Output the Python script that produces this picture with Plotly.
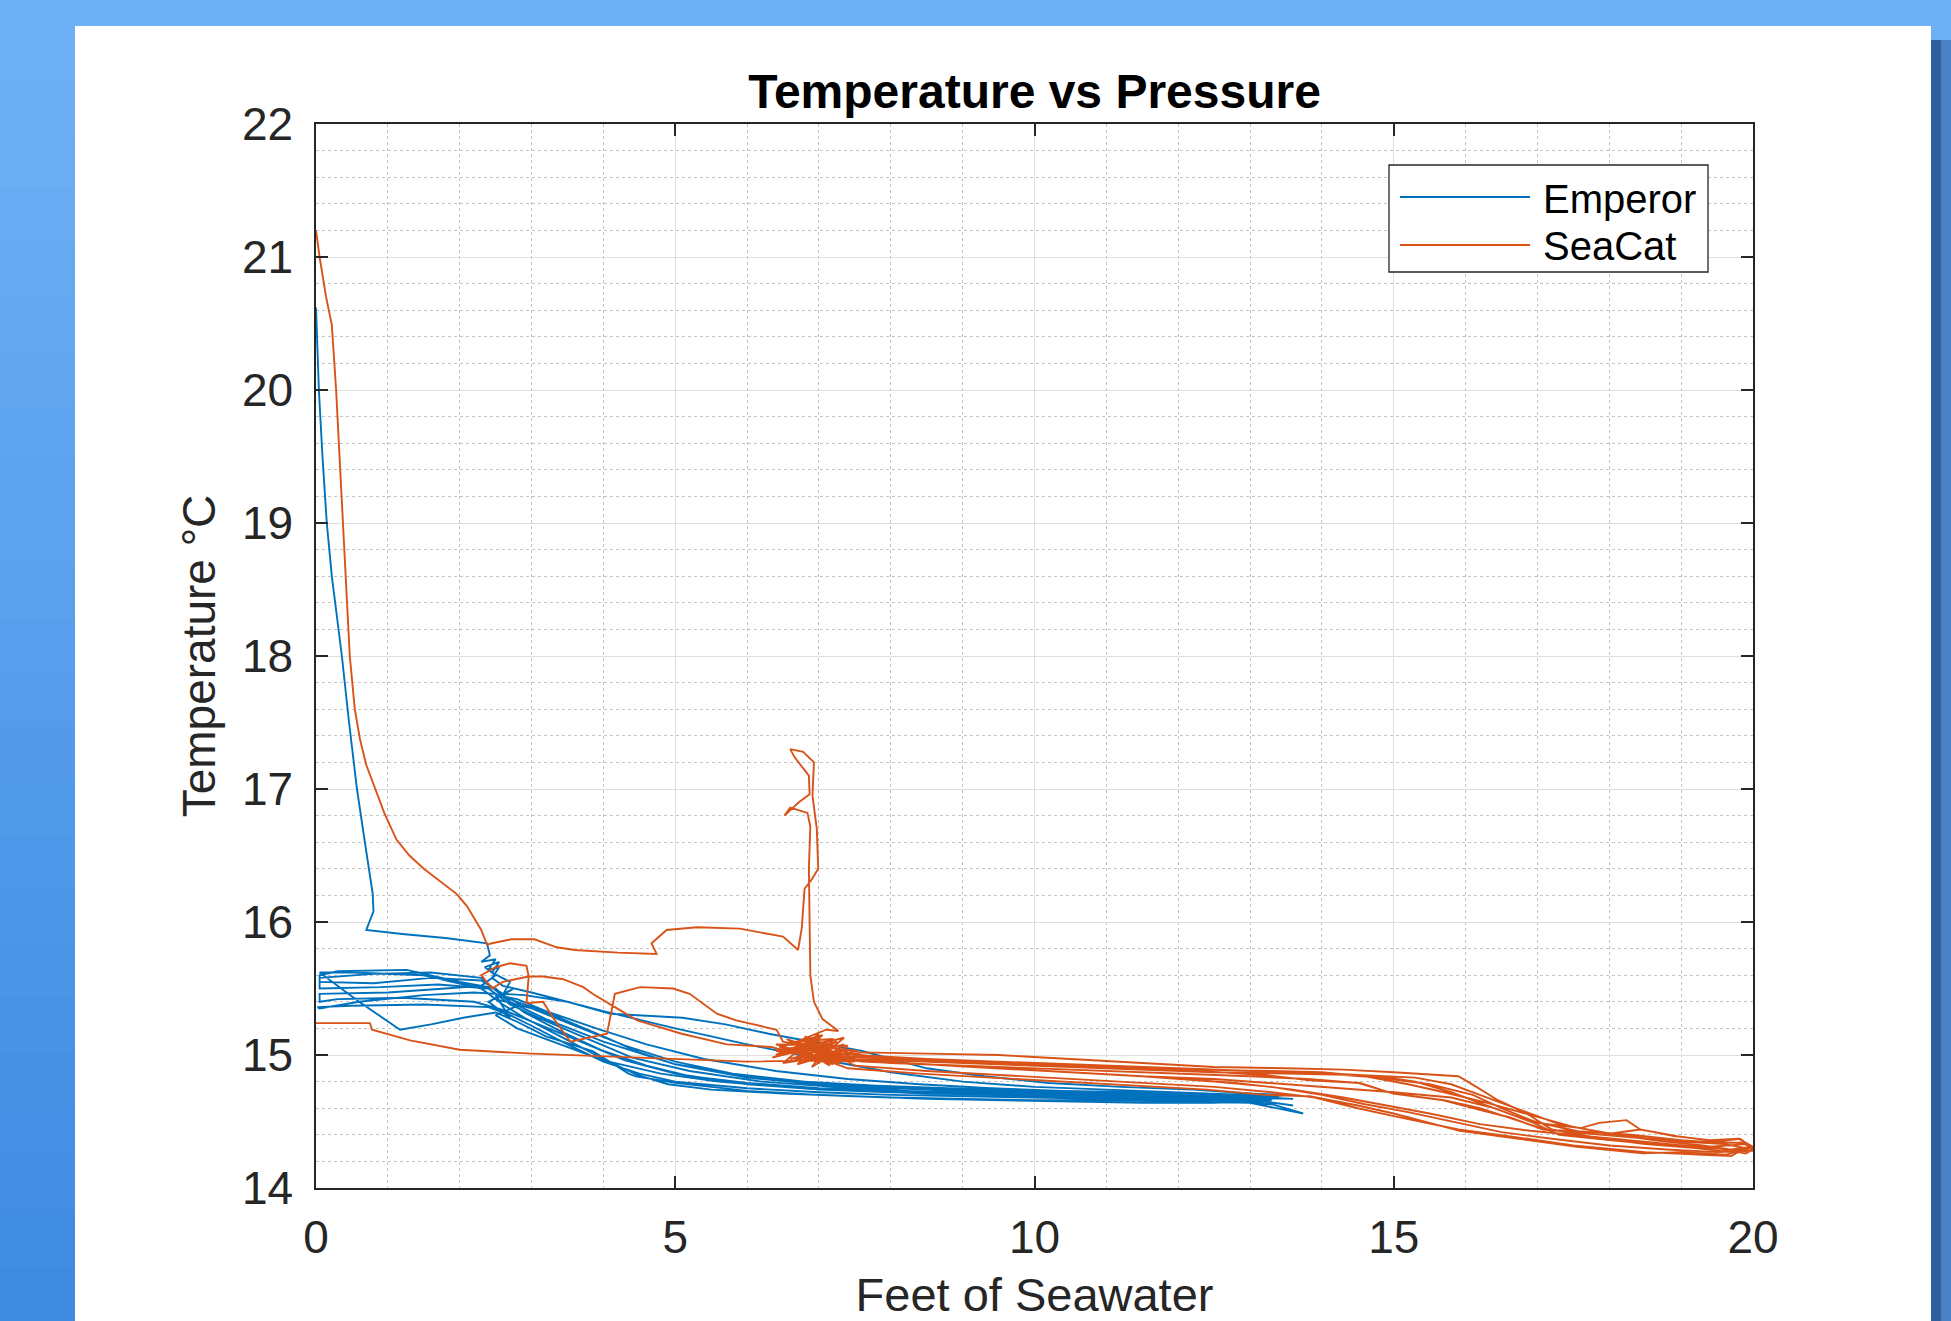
import plotly.graph_objects as go

# ---------------- data (feet of seawater, temperature degC) ----------------
EMPEROR_DESCENT = [(0.00, 20.62), (0.02, 20.30), (0.04, 20.00), (0.09, 19.50), (0.15, 19.00),
                   (0.22, 18.60), (0.36, 18.00), (0.46, 17.50), (0.57, 17.00), (0.68, 16.60),
                   (0.79, 16.21), (0.80, 16.08), (0.70, 15.94), (1.20, 15.91), (1.80, 15.88),
                   (2.38, 15.84), (2.42, 15.75), (2.30, 15.70), (2.50, 15.72), (2.40, 15.64),
                   (2.55, 15.66), (2.45, 15.58)]
EMPEROR_CAST1 = [(2.60, 15.52), (3.00, 15.47), (4.00, 15.33), (5.00, 15.20), (6.00, 15.08),
                 (7.00, 14.97), (8.00, 14.87), (9.00, 14.80), (10.00, 14.76), (11.00, 14.74),
                 (12.00, 14.72), (13.00, 14.70), (13.40, 14.69), (13.00, 14.66), (12.00, 14.66),
                 (11.00, 14.67), (10.00, 14.68), (9.00, 14.69), (8.00, 14.70), (7.00, 14.72),
                 (6.00, 14.75), (5.00, 14.80), (4.50, 14.86), (4.00, 14.95), (3.50, 15.08),
                 (3.00, 15.22), (2.70, 15.30), (2.40, 15.36), (1.50, 15.38), (0.50, 15.37),
                 (0.02, 15.36)]
EMPEROR_CAST2 = [(0.05, 15.35), (0.60, 15.40), (1.50, 15.45), (2.20, 15.47), (2.50, 15.46),
                 (2.80, 15.40), (3.30, 15.30), (4.00, 15.14), (4.50, 15.02), (5.00, 14.93),
                 (6.00, 14.84), (7.00, 14.79), (8.00, 14.76), (9.00, 14.74), (10.00, 14.72),
                 (11.00, 14.71), (12.00, 14.70), (12.80, 14.69), (13.30, 14.66), (12.50, 14.64),
                 (11.50, 14.64), (10.50, 14.65), (9.50, 14.66), (8.50, 14.67), (7.50, 14.69),
                 (6.50, 14.71), (5.50, 14.74), (4.90, 14.78), (4.47, 14.85), (4.00, 14.97),
                 (3.40, 15.14), (2.90, 15.28), (2.60, 15.38), (2.30, 15.50), (1.50, 15.60),
                 (0.50, 15.62), (0.05, 15.62)]
EMPEROR_CAST3 = [(0.60, 15.40), (1.17, 15.19), (1.60, 15.23), (2.05, 15.28), (2.50, 15.32),
                 (2.80, 15.25), (3.20, 15.14), (3.85, 15.03), (4.35, 14.86), (4.45, 14.84),
                 (5.00, 14.79), (6.00, 14.73), (7.00, 14.70), (8.00, 14.68), (9.00, 14.67),
                 (10.00, 14.66), (11.00, 14.66), (12.00, 14.65), (13.00, 14.64), (13.74, 14.56),
                 (13.30, 14.63), (12.00, 14.68), (11.00, 14.70), (10.00, 14.72), (9.00, 14.73),
                 (8.00, 14.75), (7.00, 14.78), (6.00, 14.83), (5.00, 14.93), (4.00, 15.10),
                 (3.20, 15.27), (2.70, 15.40), (2.50, 15.50), (2.00, 15.55), (1.26, 15.64),
                 (0.30, 15.63), (0.05, 15.60)]
EMPEROR_CAST4 = [(0.05, 15.55), (0.80, 15.54), (1.60, 15.58), (2.30, 15.56), (2.60, 15.46),
                 (2.90, 15.45), (3.50, 15.40), (4.10, 15.31), (5.10, 15.28), (5.70, 15.23),
                 (6.30, 15.16), (7.60, 15.03), (8.50, 14.90), (9.30, 14.84), (10.20, 14.79),
                 (11.20, 14.76), (12.20, 14.74), (13.00, 14.71), (13.50, 14.70), (13.00, 14.67),
                 (12.00, 14.68), (11.00, 14.69), (10.00, 14.70), (9.00, 14.71), (8.00, 14.72),
                 (7.00, 14.74), (6.00, 14.78), (5.00, 14.86), (4.30, 14.96), (3.60, 15.12),
                 (3.00, 15.25), (2.60, 15.34), (2.20, 15.40), (1.20, 15.43), (0.30, 15.42),
                 (0.05, 15.40)]
EMPEROR_CAST5 = [(0.05, 15.46), (1.00, 15.47), (1.80, 15.50), (2.30, 15.52), (2.50, 15.60),
                 (2.35, 15.66), (2.55, 15.70), (2.45, 15.62), (2.70, 15.55), (2.60, 15.45),
                 (2.85, 15.38), (2.50, 15.30), (2.80, 15.20), (3.30, 15.10), (4.00, 14.96),
                 (4.80, 14.86), (5.60, 14.80), (6.50, 14.76), (7.50, 14.73), (8.50, 14.71),
                 (9.50, 14.70), (10.50, 14.69), (11.50, 14.68), (12.50, 14.67), (13.10, 14.66),
                 (12.40, 14.71), (11.40, 14.72), (10.40, 14.73), (9.40, 14.75), (8.40, 14.78),
                 (7.40, 14.82), (6.40, 14.88), (5.40, 14.97), (4.60, 15.08), (3.90, 15.20),
                 (3.20, 15.33), (2.80, 15.42), (2.50, 15.45), (2.70, 15.28), (2.40, 15.40),
                 (2.75, 15.50)]
EMPEROR_CAST6 = [(2.50, 15.42), (3.00, 15.35), (3.60, 15.22), (4.30, 15.07), (5.00, 14.95),
                 (5.80, 14.86), (6.80, 14.80), (7.80, 14.77), (8.80, 14.75), (9.80, 14.73),
                 (10.80, 14.72), (11.80, 14.71), (12.80, 14.69), (13.60, 14.67), (13.00, 14.68),
                 (12.00, 14.69), (11.00, 14.70), (10.00, 14.71), (9.00, 14.72), (8.00, 14.73),
                 (7.00, 14.75), (6.00, 14.79), (5.20, 14.84), (4.60, 14.92), (4.00, 15.03),
                 (3.40, 15.18), (2.90, 15.32), (2.60, 15.44), (2.30, 15.58), (1.60, 15.62),
                 (0.80, 15.61), (0.05, 15.58)]
EMPEROR_CAST7 = [(0.05, 15.50), (0.90, 15.51), (1.70, 15.53), (2.40, 15.50), (2.70, 15.38),
                 (3.10, 15.28), (3.70, 15.14), (4.40, 14.98), (5.20, 14.88), (6.20, 14.80),
                 (7.20, 14.76), (8.20, 14.73), (9.20, 14.71), (10.20, 14.69), (11.20, 14.68),
                 (12.20, 14.67), (13.20, 14.65), (13.60, 14.62)]

SEACAT_DESCENT = [(0.00, 21.20), (0.05, 21.00), (0.14, 20.70), (0.22, 20.49), (0.28, 20.00),
                  (0.33, 19.50), (0.37, 19.00), (0.42, 18.50), (0.47, 18.00), (0.54, 17.60),
                  (0.61, 17.38), (0.70, 17.18), (0.80, 17.03), (0.95, 16.82), (1.12, 16.62),
                  (1.30, 16.50), (1.50, 16.40), (1.75, 16.30), (1.96, 16.21), (2.10, 16.12),
                  (2.19, 16.04), (2.30, 15.94), (2.38, 15.83)]
SEACAT_SPIKE = [(2.45, 15.84), (2.72, 15.87), (3.04, 15.87), (3.35, 15.81), (3.60, 15.79),
                (4.20, 15.77), (4.74, 15.76), (4.67, 15.84), (4.88, 15.94), (5.30, 15.96),
                (5.90, 15.95), (6.50, 15.89), (6.71, 15.79), (6.76, 15.95), (6.80, 16.25),
                (6.90, 16.32), (6.99, 16.40), (6.97, 16.70), (6.91, 16.95), (6.93, 17.20),
                (6.78, 17.28), (6.60, 17.30), (6.66, 17.24), (6.86, 17.10), (6.87, 16.96),
                (6.72, 16.90), (6.52, 16.80), (6.60, 16.86), (6.84, 16.82), (6.88, 16.72),
                (6.86, 16.40), (6.87, 16.00), (6.88, 15.60), (6.93, 15.40), (7.05, 15.27),
                (7.27, 15.18), (7.10, 15.19)]
SEACAT_CLUSTER = [(6.60, 15.08), (7.00, 15.13), (6.40, 15.00), (7.20, 15.06), (6.60, 14.97),
                  (7.40, 15.04), (6.70, 14.93), (7.10, 15.10), (6.40, 15.03), (7.30, 14.97),
                  (6.80, 15.14), (7.50, 15.00), (6.55, 15.05), (7.00, 14.94), (7.35, 15.08),
                  (6.75, 15.00), (7.20, 14.93), (6.45, 15.06), (7.05, 15.15), (6.65, 14.95),
                  (7.25, 15.10), (6.35, 14.98), (6.95, 15.09), (7.45, 14.96), (6.55, 15.12),
                  (7.15, 14.92), (6.85, 15.07), (7.55, 15.03), (6.50, 14.94), (7.00, 15.16),
                  (6.70, 15.02), (7.30, 14.94), (6.60, 15.10), (7.20, 15.12), (6.90, 14.91),
                  (7.40, 15.07), (6.40, 15.08), (7.10, 14.97), (6.80, 15.11), (7.50, 14.95),
                  (6.70, 14.96), (7.00, 15.05), (6.50, 15.02), (7.35, 15.13), (6.95, 14.95)]
SEACAT_CAST_A = [(7.60, 15.02), (8.50, 15.01), (9.50, 15.00), (10.50, 14.97), (11.50, 14.94),
                 (12.50, 14.91), (13.50, 14.90), (14.30, 14.89), (15.00, 14.87), (15.90, 14.84),
                 (16.15, 14.76), (16.45, 14.66), (16.85, 14.56), (17.20, 14.44), (17.80, 14.38),
                 (18.50, 14.33), (19.20, 14.30), (19.70, 14.27), (20.00, 14.30), (19.85, 14.34),
                 (19.50, 14.34), (19.00, 14.36), (18.30, 14.40), (17.80, 14.42), (17.10, 14.44),
                 (16.60, 14.53), (16.20, 14.60), (15.70, 14.66), (15.00, 14.71), (14.50, 14.79),
                 (13.80, 14.82), (13.00, 14.84), (12.00, 14.86), (11.00, 14.88), (10.00, 14.90),
                 (9.00, 14.92), (8.00, 14.94), (7.30, 14.97), (6.80, 15.05), (7.20, 15.00)]
SEACAT_CAST_B = [(7.50, 14.92), (8.50, 14.88), (9.50, 14.85), (10.50, 14.82), (11.50, 14.79),
                 (12.50, 14.76), (13.30, 14.72), (13.90, 14.68), (14.50, 14.60), (15.00, 14.54),
                 (15.90, 14.44), (16.60, 14.39), (17.50, 14.32), (18.50, 14.27), (19.30, 14.25),
                 (19.70, 14.24), (19.85, 14.29), (20.00, 14.31), (19.80, 14.37), (19.40, 14.36),
                 (18.90, 14.39), (18.43, 14.44), (18.24, 14.51), (17.86, 14.49), (17.60, 14.45),
                 (17.00, 14.49), (16.50, 14.60), (16.10, 14.70), (15.50, 14.78), (14.80, 14.83),
                 (14.00, 14.86), (13.00, 14.88), (12.00, 14.90), (11.00, 14.92), (10.00, 14.94),
                 (9.00, 14.96), (8.00, 14.98), (7.20, 15.02)]
SEACAT_SHALLOW = [(6.50, 15.10), (6.41, 15.19), (5.85, 15.26), (5.58, 15.31), (5.20, 15.46),
                  (4.97, 15.50), (4.51, 15.51), (4.16, 15.46), (4.05, 15.16), (3.54, 15.10),
                  (3.30, 15.28), (3.16, 15.40), (2.93, 15.39), (2.96, 15.59), (2.93, 15.67),
                  (2.70, 15.69), (2.50, 15.66), (2.30, 15.60), (2.45, 15.50), (2.60, 15.55),
                  (2.96, 15.59), (3.16, 15.59), (3.44, 15.57), (3.72, 15.51), (3.85, 15.46),
                  (4.16, 15.36), (4.47, 15.26), (5.09, 15.16), (5.72, 15.08), (6.34, 15.06),
                  (6.60, 15.02)]
SEACAT_CAST_C = [(7.60, 14.95), (8.50, 14.93), (9.50, 14.90), (10.50, 14.87), (11.50, 14.84),
                 (12.50, 14.82), (13.50, 14.78), (14.20, 14.75), (15.00, 14.72), (15.80, 14.68),
                 (16.40, 14.60), (16.90, 14.50), (17.30, 14.40), (18.00, 14.36), (18.80, 14.32),
                 (19.50, 14.30), (19.90, 14.26), (20.00, 14.29), (19.60, 14.33), (19.00, 14.35),
                 (18.40, 14.38), (17.70, 14.41), (17.20, 14.47), (16.80, 14.52), (16.30, 14.62),
                 (15.80, 14.72), (15.30, 14.80), (14.80, 14.84), (14.20, 14.86), (13.50, 14.87),
                 (12.50, 14.89), (11.50, 14.91), (10.50, 14.93), (9.50, 14.95), (8.50, 14.97),
                 (7.50, 15.00), (6.90, 15.03)]
SEACAT_CAST_E = [(7.50, 14.97), (8.50, 14.95), (9.50, 14.93), (10.50, 14.91), (11.50, 14.89),
                 (12.50, 14.87), (13.50, 14.86), (14.50, 14.85), (15.30, 14.83), (15.80, 14.78),
                 (16.30, 14.68), (16.80, 14.58), (17.30, 14.48), (17.90, 14.42), (18.60, 14.36),
                 (19.30, 14.32), (19.80, 14.28), (20.00, 14.31), (19.70, 14.29), (19.20, 14.31),
                 (18.60, 14.34), (18.00, 14.37), (17.40, 14.40), (16.90, 14.43), (16.20, 14.48),
                 (15.50, 14.56), (14.90, 14.62), (14.30, 14.68), (13.60, 14.74), (12.80, 14.79),
                 (11.80, 14.83), (10.80, 14.86), (9.80, 14.89), (8.80, 14.92), (7.80, 14.95),
                 (7.00, 15.00)]
SEACAT_CAST_F = [(7.30, 14.99), (8.30, 14.97), (9.30, 14.95), (10.30, 14.93), (11.30, 14.91),
                 (12.30, 14.89), (13.30, 14.88), (14.00, 14.87), (14.60, 14.84), (15.20, 14.78),
                 (15.70, 14.72), (16.30, 14.64), (16.90, 14.55), (17.50, 14.46), (18.10, 14.40),
                 (18.80, 14.35), (19.40, 14.31), (19.90, 14.33), (20.00, 14.28), (19.50, 14.27),
                 (18.80, 14.29), (18.00, 14.32), (17.20, 14.37), (16.50, 14.42), (15.80, 14.50),
                 (15.20, 14.57), (14.60, 14.63), (14.00, 14.70), (13.30, 14.76), (12.50, 14.80),
                 (11.50, 14.84), (10.50, 14.87), (9.50, 14.90), (8.50, 14.93), (7.50, 14.96),
                 (6.90, 15.00)]
SEACAT_CAST_D = [(7.40, 14.90), (8.40, 14.86), (9.40, 14.83), (10.40, 14.80), (11.40, 14.77),
                 (12.40, 14.74), (13.20, 14.70), (13.83, 14.69), (14.50, 14.62), (15.00, 14.56),
                 (15.92, 14.43), (16.62, 14.38), (17.55, 14.31), (18.47, 14.26), (19.00, 14.27),
                 (19.63, 14.25), (19.86, 14.29), (20.00, 14.30), (19.82, 14.37), (19.50, 14.35),
                 (18.94, 14.39), (18.43, 14.44), (17.90, 14.40), (17.08, 14.44), (16.62, 14.53),
                 (16.25, 14.58), (15.69, 14.66), (14.99, 14.71), (14.53, 14.79), (13.83, 14.81),
                 (13.20, 14.85), (12.00, 14.89), (10.00, 14.93), (8.00, 14.97), (6.00, 14.95),
                 (5.00, 14.97), (4.00, 14.99), (3.00, 15.01), (2.00, 15.04), (1.31, 15.11),
                 (0.78, 15.19), (0.75, 15.24), (0.00, 15.24)]

SERIES_NAMES = ["Emperor", "SeaCat"]
X_TICKS = [0, 5, 10, 15, 20]
Y_TICKS = [14, 15, 16, 17, 18, 19, 20, 21, 22]

EMPEROR = (EMPEROR_DESCENT + EMPEROR_CAST1 + EMPEROR_CAST2 + EMPEROR_CAST3
           + EMPEROR_CAST4 + EMPEROR_CAST5 + EMPEROR_CAST6 + EMPEROR_CAST7)
SEACAT = (SEACAT_DESCENT + SEACAT_SPIKE + SEACAT_CLUSTER + SEACAT_CAST_A + SEACAT_CAST_B
          + SEACAT_SHALLOW + SEACAT_CAST_C + SEACAT_CAST_E + SEACAT_CAST_F + SEACAT_CAST_D)

BLUE = "#0072BD"
ORANGE = "#D95319"
INK = "#262626"
FONT = "Liberation Sans, Arial, Helvetica, sans-serif"

W, H = 1951, 1321
L, R, T, B = 316, 198, 124, 133
PW, PH = W - L - R, H - T - B


def px_x(px):
    return (px - L) / PW


def px_y(py):
    return (H - B - py) / PH


fig = go.Figure()
for name, pts, col in [(SERIES_NAMES[0], EMPEROR, BLUE), (SERIES_NAMES[1], SEACAT, ORANGE)]:
    fig.add_trace(go.Scatter(
        x=[p[0] for p in pts], y=[p[1] for p in pts], mode="lines", name=name,
        line=dict(color=col, width=1.9), showlegend=False,
    ))


def hexmix(c1, c2, f):
    a = [int(c1[i:i + 2], 16) for i in (1, 3, 5)]
    b = [int(c2[i:i + 2], 16) for i in (1, 3, 5)]
    return "#" + "".join("%02x" % round(a[k] + (b[k] - a[k]) * f) for k in range(3))


shapes = []
# background frame (blue border around white panel)
TOP_BLUE = "#6eb0f5"
shapes.append(dict(type="rect", xref="paper", yref="paper", layer="below",
                   x0=px_x(-5), x1=px_x(W + 5), y0=px_y(26), y1=px_y(-5),
                   fillcolor=TOP_BLUE, line=dict(width=0)))
n_bands = 24
bh = (H - 26) / n_bands
for i in range(n_bands):
    c = hexmix(TOP_BLUE, "#3f8be2", i / (n_bands - 1))
    shapes.append(dict(type="rect", xref="paper", yref="paper", layer="below",
                       x0=px_x(-5), x1=px_x(75), y0=px_y(26 + (i + 1) * bh + 1),
                       y1=px_y(26 + i * bh), fillcolor=c, line=dict(width=0)))
shapes.append(dict(type="rect", xref="paper", yref="paper", layer="below",
                   x0=px_x(1931), x1=px_x(1941), y0=px_y(H + 5), y1=px_y(40),
                   fillcolor="#2f5f9f", line=dict(width=0)))
shapes.append(dict(type="rect", xref="paper", yref="paper", layer="below",
                   x0=px_x(1941), x1=px_x(W + 5), y0=px_y(H + 5), y1=px_y(40),
                   fillcolor="#4a80c4", line=dict(width=0)))
shapes.append(dict(type="rect", xref="paper", yref="paper", layer="below",
                   x0=px_x(1931), x1=px_x(W + 5), y0=px_y(40), y1=px_y(25),
                   fillcolor=TOP_BLUE, line=dict(width=0)))
# legend box
shapes.append(dict(type="rect", xref="paper", yref="paper", layer="above",
                   x0=px_x(1389), x1=px_x(1708), y0=px_y(272), y1=px_y(165),
                   fillcolor="white", line=dict(color=INK, width=1.3)))
shapes.append(dict(type="line", xref="paper", yref="paper", layer="above",
                   x0=px_x(1400), x1=px_x(1530), y0=px_y(197), y1=px_y(197),
                   line=dict(color=BLUE, width=1.9)))
shapes.append(dict(type="line", xref="paper", yref="paper", layer="above",
                   x0=px_x(1400), x1=px_x(1530), y0=px_y(245), y1=px_y(245),
                   line=dict(color=ORANGE, width=1.9)))

annotations = [
    dict(text=SERIES_NAMES[0], xref="paper", yref="paper", x=px_x(1541), y=px_y(199),
         xanchor="left", yanchor="middle", showarrow=False, font=dict(size=40, color="black", family=FONT)),
    dict(text=SERIES_NAMES[1], xref="paper", yref="paper", x=px_x(1541), y=px_y(246),
         xanchor="left", yanchor="middle", showarrow=False, font=dict(size=40, color="black", family=FONT)),
]

axis_common = dict(
    showline=True, linecolor=INK, linewidth=1.5, mirror="ticks", automargin=False,
    ticks="inside", ticklen=12, tickwidth=1.5, tickcolor=INK,
    showgrid=True, gridcolor="#dedede", gridwidth=1, zeroline=False,
    tickfont=dict(size=46, color=INK, family=FONT),
)

fig.update_layout(
    width=W, height=H, autosize=False,
    margin=dict(l=L, r=R, t=T, b=B, pad=0, autoexpand=False),
    paper_bgcolor="white", plot_bgcolor="white",
    font=dict(family=FONT, color=INK),
    title=dict(text="<b>Temperature vs Pressure</b>", x=0.5, xref="paper", xanchor="center",
               y=1 - 91 / H, yref="container", yanchor="middle", automargin=False,
               font=dict(size=48, color="black", family=FONT)),
    xaxis=dict(range=[0, 20], tickmode="array", tickvals=X_TICKS, ticklabelstandoff=8,
               minor=dict(dtick=1, tick0=0, showgrid=True, gridcolor="#c4c4c4", griddash="dot",
                          gridwidth=1, ticks=""),
               title=dict(text="Feet of Seawater", standoff=20,
                          font=dict(size=47, color=INK, family=FONT)),
               **axis_common),
    yaxis=dict(range=[14, 22], tickmode="array", tickvals=Y_TICKS, ticklabelstandoff=12,
               minor=dict(dtick=0.2, tick0=14, showgrid=True, gridcolor="#c4c4c4", griddash="dot",
                          gridwidth=1, ticks=""),
               title=dict(text="Temperature °C", standoff=12,
                          font=dict(size=46, color=INK, family=FONT)),
               **axis_common),
    shapes=shapes,
    annotations=annotations,
)

fig.write_html("out.html", config={"displayModeBar": False},
               post_script="document.body.style.margin='0px';document.body.style.overflow='hidden';")
